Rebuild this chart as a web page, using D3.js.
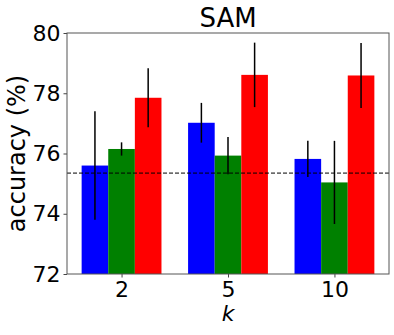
<!DOCTYPE html>
<html><head><meta charset="utf-8">
<script src="https://cdn.jsdelivr.net/npm/d3@7"></script>
<style>body{margin:0;background:#fff}svg{display:block}text{font-family:"DejaVu Sans",sans-serif;fill:#000}</style>
</head><body><div id="c"></div>
<script>
const categories = ["2", "5", "10"];
const seriesNames = ["s1", "s2", "s3"];
const colors = ["#0000ff", "#008000", "#ff0000"];
const means = [
  [75.60, 77.02, 75.82],
  [76.15, 75.93, 75.04],
  [77.85, 78.61, 78.59]
];
const errs = [
  [1.80, 0.66, 0.60],
  [0.22, 0.62, 1.38],
  [0.98, 1.07, 1.08]
];
const baseline = 75.35;
const yTicks = [72, 74, 76, 78, 80];

const W = 394, H = 335;
const m = {l: 67, r: 389, t: 33, b: 274};
const svg = d3.select("#c").append("svg").attr("width", W).attr("height", H);

const barW = 0.25;
const x = d3.scaleLinear().domain([-0.5125, 2.5125]).range([m.l, m.r]);
const y = d3.scaleLinear().domain([72, 80]).range([m.b, m.t]);

const data = [];
seriesNames.forEach((s, si) => categories.forEach((c, ci) => {
  data.push({si, ci, v: means[si][ci], e: errs[si][ci]});
}));

svg.selectAll("rect.bar").data(data).enter().append("rect")
  .attr("x", d => x(d.ci + (d.si - 1) * barW - barW / 2))
  .attr("width", d => x(barW) - x(0))
  .attr("y", d => y(d.v))
  .attr("height", d => y(72) - y(d.v))
  .attr("fill", d => colors[d.si]);

svg.selectAll("line.err").data(data).enter().append("line")
  .attr("x1", d => x(d.ci + (d.si - 1) * barW))
  .attr("x2", d => x(d.ci + (d.si - 1) * barW))
  .attr("y1", d => y(d.v - d.e))
  .attr("y2", d => y(d.v + d.e))
  .attr("stroke", "#000").attr("stroke-width", 1.5);

svg.append("line")
  .attr("x1", m.l).attr("x2", m.r)
  .attr("y1", y(baseline)).attr("y2", y(baseline))
  .attr("stroke", "#000").attr("stroke-width", 1).attr("stroke-dasharray", "4,2");

// axes
const yAxis = d3.axisLeft(y).tickValues(yTicks).tickSize(3.5).tickPadding(3);
const gy = svg.append("g").attr("transform", `translate(${m.l},0)`).call(yAxis);
gy.select(".domain").remove();
gy.selectAll("line").attr("stroke", "#444");
gy.selectAll("text").style("font-size", "22px").attr("font-family", "DejaVu Sans");

const xAxis = d3.axisBottom(x).tickValues([0, 1, 2]).tickFormat(i => categories[i]).tickSize(3.5).tickPadding(4);
const gx = svg.append("g").attr("transform", `translate(0,${m.b})`).call(xAxis);
gx.select(".domain").remove();
gx.selectAll("line").attr("stroke", "#444");
gx.selectAll("text").style("font-size", "22px").attr("font-family", "DejaVu Sans");

svg.append("rect").attr("x", m.l).attr("y", m.t).attr("width", m.r - m.l).attr("height", m.b - m.t)
  .attr("fill", "none").attr("stroke", "#555").attr("stroke-width", 1);

svg.append("text").attr("x", (m.l + m.r) / 2).attr("y", 27).attr("text-anchor", "middle")
  .style("font-size", "26px").text("SAM");
svg.append("text").attr("transform", `translate(25,${(m.t + m.b) / 2}) rotate(-90)`)
  .attr("text-anchor", "middle").style("font-size", "24px").text("accuracy (%)");
svg.append("text").attr("x", (m.l + m.r) / 2).attr("y", 321).attr("text-anchor", "middle")
  .style("font-size", "22px").style("font-style", "italic").text("k");
</script></body></html>
